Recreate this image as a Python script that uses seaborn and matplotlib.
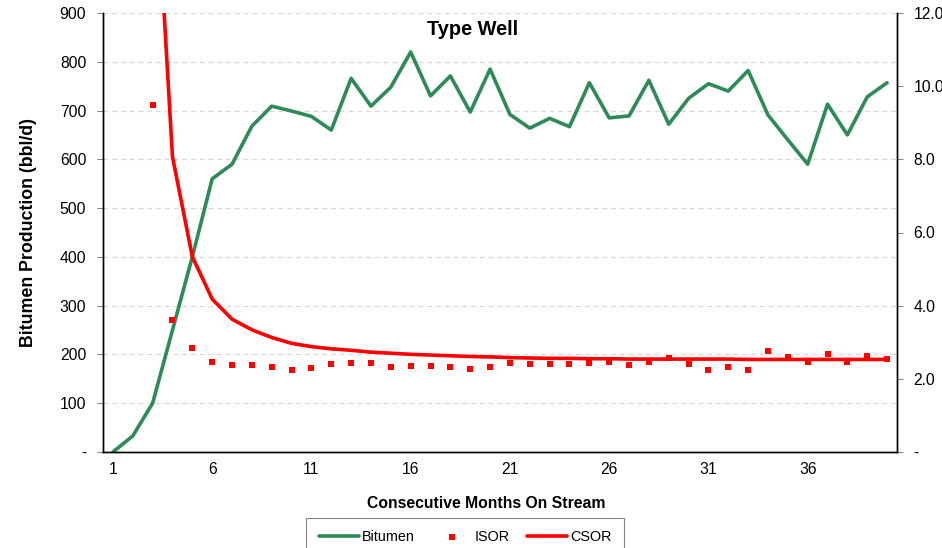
import numpy as np
import pandas as pd
import matplotlib
matplotlib.use("Agg")
import matplotlib.pyplot as plt
import seaborn as sns

# --- data ---
months = list(range(1, 41))

bitumen = [0, 33, 100, 250, 400, 560, 590, 668, 709, 699,
           688, 660, 766, 709, 748, 820, 730, 771, 697, 785,
           692, 664, 684, 667, 757, 685, 689, 762, 672, 725,
           755, 740, 782, 691, 640, 590, 713, 650, 728, 757]

isor_months = list(range(3, 41))
isor = [9.49, 3.61, 2.84, 2.46, 2.37, 2.39, 2.31, 2.24, 2.30, 2.41,
        2.42, 2.43, 2.32, 2.34, 2.36, 2.32, 2.26, 2.31, 2.44, 2.41,
        2.41, 2.41, 2.44, 2.45, 2.37, 2.45, 2.56, 2.40, 2.24, 2.32,
        2.25, 2.76, 2.61, 2.46, 2.69, 2.46, 2.63, 2.54]

csor_months = list(range(3, 41))
csor = [17.4, 8.07, 5.34, 4.18, 3.63, 3.34, 3.13, 2.97, 2.88, 2.82,
        2.78, 2.73, 2.70, 2.67, 2.65, 2.63, 2.61, 2.60, 2.58, 2.57,
        2.56, 2.56, 2.55, 2.55, 2.54, 2.54, 2.54, 2.54, 2.54, 2.54,
        2.53, 2.53, 2.53, 2.53, 2.53, 2.53, 2.53, 2.53]

left_ticks = [0, 100, 200, 300, 400, 500, 600, 700, 800, 900]
left_labels = ["-", "100", "200", "300", "400", "500", "600", "700", "800", "900"]
right_ticks = [0, 2, 4, 6, 8, 10, 12]
right_labels = ["-", "2.0", "4.0", "6.0", "8.0", "10.0", "12.0"]
x_labels = [1, 6, 11, 16, 21, 26, 31, 36]

bit_df = pd.DataFrame({"month": months, "value": bitumen})
isor_df = pd.DataFrame({"month": isor_months, "value": isor})
csor_df = pd.DataFrame({"month": csor_months, "value": csor})

# --- style ---
sns.set_style("white")
plt.rcParams["font.family"] = ["Liberation Sans", "DejaVu Sans"]
plt.rcParams["text.color"] = "black"
plt.rcParams["axes.labelcolor"] = "black"
plt.rcParams["xtick.color"] = "black"
plt.rcParams["ytick.color"] = "black"

GREEN = "#2E8B57"
RED = "#FF0000"

fig = plt.figure(figsize=(9.42, 5.48), dpi=100)
ax = fig.add_axes([103 / 942, 1 - 452 / 548, 794 / 942, 439 / 548])
ax2 = ax.twinx()

sns.lineplot(data=bit_df, x="month", y="value", ax=ax, color=GREEN,
             linewidth=2.6, label="Bitumen", legend=False)
sns.scatterplot(data=isor_df, x="month", y="value", ax=ax2, color=RED,
                marker="s", s=14, linewidth=0, label="ISOR", legend=False)
sns.lineplot(data=csor_df, x="month", y="value", ax=ax2, color=RED,
             linewidth=2.6, label="CSOR", legend=False)

# left axis
ax.set_xlim(0.5, 40.5)
ax.set_ylim(0, 900)
ax.set_yticks(left_ticks)
ax.set_yticklabels(left_labels, fontsize=11.3)
ax.yaxis.grid(True, linestyle=(0, (4, 3)), color="#d9d9d9", linewidth=0.9)
ax.set_axisbelow(True)

# x axis: tick marks between categories, labels centred on categories
ax.set_xticks(np.arange(0.5, 41, 5))
ax.set_xticklabels([])
ax.set_xticks(x_labels, minor=True)
ax.set_xticklabels([str(v) for v in x_labels], minor=True, fontsize=11.3)
ax.tick_params(axis="x", which="major", direction="out", length=4, color="#888888")
ax.tick_params(axis="x", which="minor", length=0, pad=7)
ax.tick_params(axis="y", direction="out", length=4, color="#888888", pad=8)

# right axis
ax2.set_ylim(0, 12)
ax2.set_yticks(right_ticks)
ax2.set_yticklabels(right_labels, fontsize=11.3)
ax2.tick_params(axis="y", direction="out", length=4, color="#888888", pad=8)
ax2.set_xlim(0.5, 40.5)

for a in (ax, ax2):
    a.set_xlabel("")
    a.set_ylabel("")
    a.spines["top"].set_visible(False)
    for s in ("left", "right", "bottom"):
        a.spines[s].set_color("black")
        a.spines[s].set_linewidth(1.0)

ax.set_ylabel("Bitumen Production (bbl/d)", fontsize=12.8, fontweight="bold", labelpad=16)
ax.set_xlabel("Consecutive Months On Stream", fontsize=11.3, fontweight="bold")
ax.xaxis.set_label_coords((486 - 103) / 794, -(504 - 452) / 439)
ax.xaxis.label.set_va("center")
ax.text(0.465, 0.985, "Type Well", transform=ax.transAxes, ha="center", va="top",
        fontsize=14.4, fontweight="bold")

handles = ax.get_lines()[:1] + ax2.collections[:1] + ax2.get_lines()[:1]
leg = fig.legend(handles, ["Bitumen", "ISOR", "CSOR"], loc="upper center",
                 bbox_to_anchor=(465 / 942, 1 - 518 / 548), ncol=3, fontsize=10.4,
                 frameon=True, fancybox=False, edgecolor="#666666",
                 handlelength=2.8, handletextpad=0.2, columnspacing=1.15,
                 borderpad=0.85, borderaxespad=0, markerscale=1.0)
leg.get_frame().set_linewidth(0.8)

fig.savefig("out.png", dpi=100)
